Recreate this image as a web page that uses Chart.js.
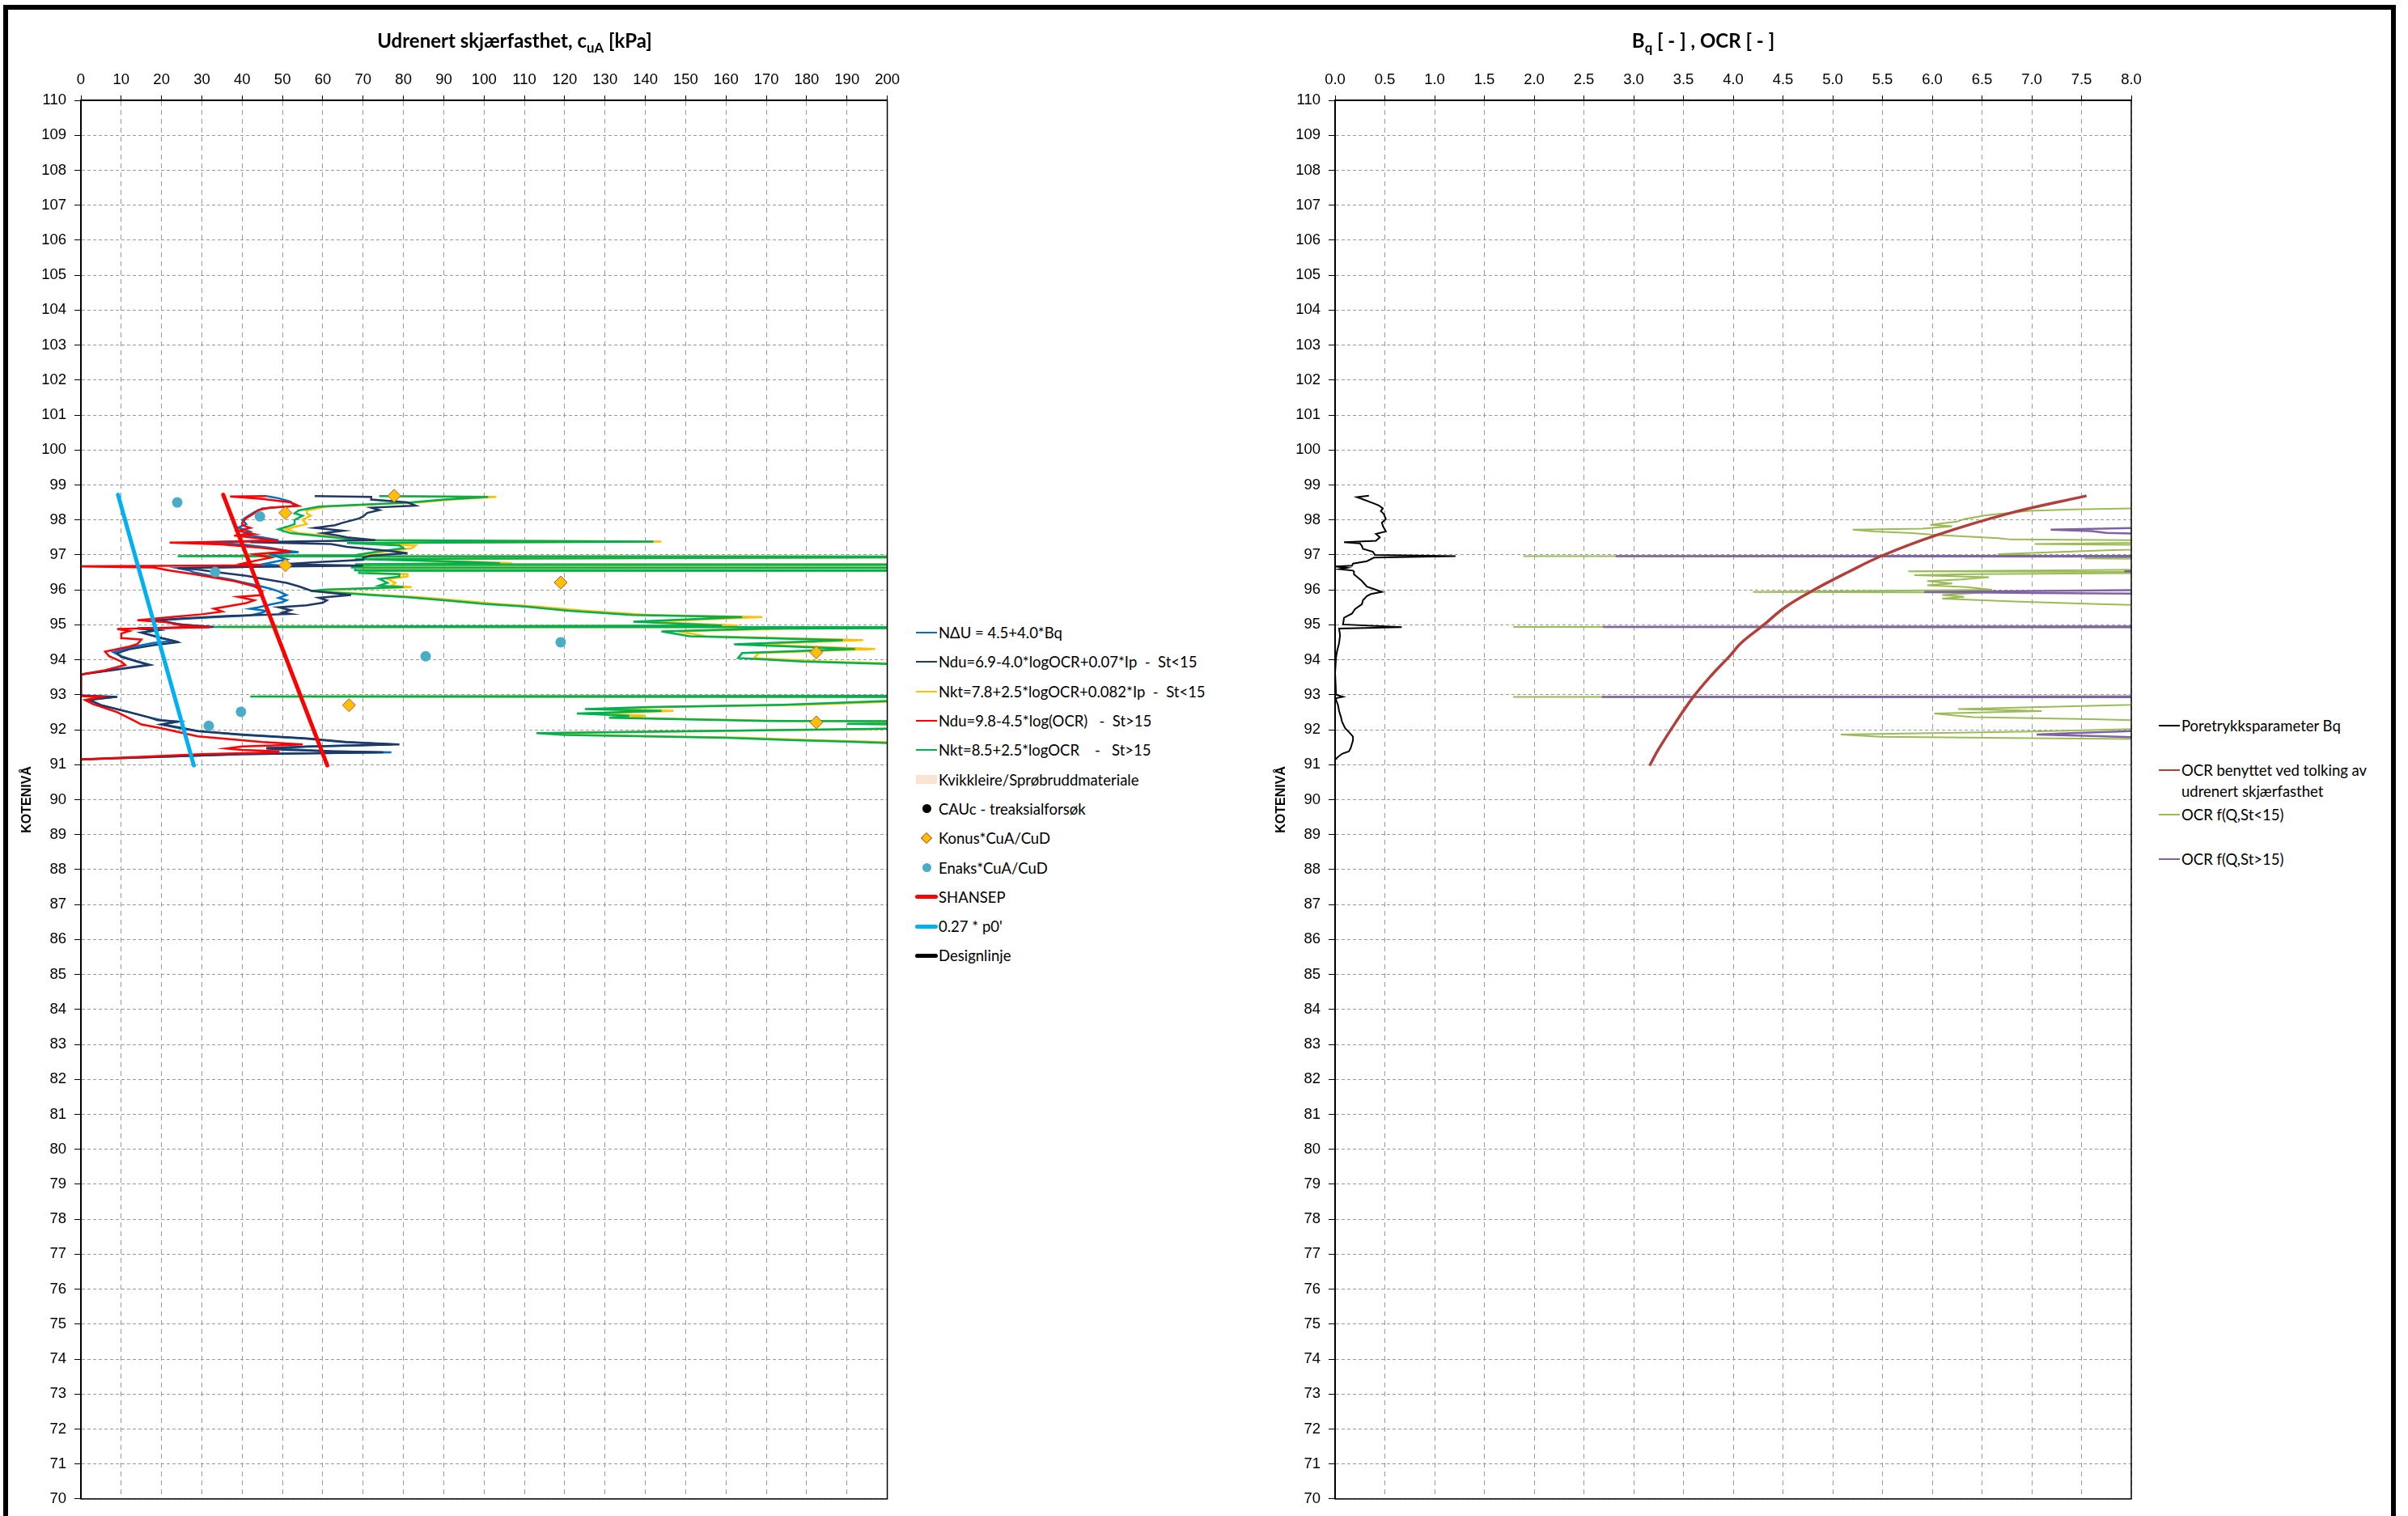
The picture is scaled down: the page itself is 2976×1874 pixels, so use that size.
<!DOCTYPE html>
<html lang="no">
<head>
<meta charset="utf-8">
<title>CPT - tolkning</title>
<script src="https://cdn.jsdelivr.net/npm/chart.js@4.4.1/dist/chart.umd.min.js"></script>
<style>
  html, body { margin: 0; padding: 0; background: #fff; }
  body { width: 2976px; height: 1874px; position: relative; overflow: hidden;
         font-family: Lato, 'Noto Sans', sans-serif; color: #000; }
  .frame { position: absolute; left: 4px; top: 6px; width: 2957px; height: 1920px;
           border: 6px solid #000; box-sizing: border-box; }
  canvas { position: absolute; top: 0; }
  .chart-title { position: absolute; font-weight: bold; font-size: 24px; white-space: nowrap;
                 transform: translate(-50%, -50%); }
  .chart-title sub { font-size: 70%; vertical-align: -0.3em; }
  .legend { position: absolute; font-size: 18.5px; }
  .legend-item { display: flex; align-items: center; white-space: pre; }
  .sym { width: 30px; display: flex; justify-content: center; align-items: center; flex: none; }
  #legendLeft .legend-item { height: 36.3px; }
  #legendRight .legend-item { height: 55px; align-items: flex-start; line-height: 26px; white-space: pre-line; }
  #legendRight .sym { height: 26px; }
</style>
</head>
<body>
<div class="frame"></div>

<canvas id="cuChart" width="1120" height="1874" style="left:0px"></canvas>
<canvas id="ocrChart" width="1110" height="1874" style="left:1550px"></canvas>

<div class="chart-title" style="left:636px; top:52px">Udrenert skjærfasthet, c<sub>uA</sub> [kPa]</div>
<div class="chart-title" style="left:2105px; top:52px">B<sub>q</sub> [ - ] , OCR [ - ]</div>

<div class="legend" id="legendLeft" style="left:1130px; top:764px"></div>
<div class="legend" id="legendRight" style="left:2666px; top:884px"></div>

<script>
// Profiles: [kote (m), value]. Values past the axis end are cut by the chart area.

// Left chart, cuA in kPa
const cuNdU = [
  [98.68, 46], [98.62, 49], [98.52, 52], [98.40, 53], [98.33, 45], [98.22, 43], [98.08, 41], [98.00, 40],
  [97.88, 41], [97.78, 39], [97.66, 42], [97.58, 40], [97.50, 45], [97.42, 49], [97.36, 30], [97.30, 40],
  [97.20, 47], [97.12, 51], [97.08, 54], [97.03, 47], [96.94, 49], [96.87, 51], [96.78, 47], [96.73, 45],
  [96.68, 52], [96.65, 38], [96.62, 24], [96.55, 27], [96.50, 28], [96.43, 31], [96.38, 33], [96.30, 37],
  [96.22, 40], [96.12, 44], [96.03, 47], [95.96, 49], [95.85, 51], [95.77, 49], [95.70, 51], [95.65, 50],
  [95.58, 47], [95.50, 44], [95.46, 42], [95.40, 46], [95.35, 45], [95.27, 42], [95.20, 30], [95.13, 19],
  [95.02, 24], [94.94, 32], [94.90, 14], [94.84, 19], [94.78, 15], [94.62, 20], [94.54, 23], [94.48, 18],
  [94.35, 12], [94.22, 8], [94.10, 10], [93.95, 14], [93.86, 17], [93.75, 10], [93.58, 0], [92.98, 0],
  [92.94, 9], [92.86, 2], [92.70, 5], [92.50, 12], [92.35, 17], [92.27, 20], [92.23, 24], [92.15, 20],
  [92.05, 24], [91.96, 29], [91.85, 40], [91.75, 55], [91.65, 65], [91.58, 77], [91.52, 58], [91.48, 46],
  [91.44, 52], [91.38, 62], [91.35, 77], [91.30, 40], [91.15, 0], [91.10, 0]
];
const cuNduSt15 = [
  [98.68, 58], [98.66, 72], [98.58, 72], [98.50, 81], [98.41, 83], [98.35, 72], [98.28, 74], [98.20, 71],
  [98.10, 70], [98.04, 69], [97.92, 65], [97.85, 63], [97.77, 58], [97.69, 65], [97.62, 60], [97.55, 64],
  [97.50, 66], [97.42, 73], [97.36, 42], [97.31, 62], [97.23, 66], [97.12, 76], [97.05, 81], [96.98, 72],
  [96.92, 70], [96.86, 70], [96.80, 60], [96.73, 50], [96.69, 70], [96.66, 45], [96.62, 24], [96.58, 29],
  [96.50, 34], [96.40, 41], [96.30, 46], [96.20, 51], [96.10, 54], [95.98, 57], [95.90, 63], [95.85, 67],
  [95.77, 59], [95.70, 61], [95.63, 60], [95.56, 56], [95.50, 49], [95.42, 52], [95.35, 50], [95.31, 52],
  [95.25, 36], [95.18, 25], [95.13, 19], [95.00, 25], [94.94, 33], [94.90, 14], [94.84, 19], [94.78, 15],
  [94.62, 20], [94.54, 23], [94.50, 24], [94.42, 18], [94.30, 12], [94.19, 9], [94.08, 10], [93.95, 14],
  [93.85, 17], [93.75, 11], [93.58, 0], [92.98, 0], [92.94, 9], [92.85, 2], [92.70, 5], [92.50, 12],
  [92.35, 17], [92.27, 19], [92.23, 24], [92.15, 20], [92.05, 25], [91.96, 29], [91.86, 40], [91.75, 56],
  [91.65, 66], [91.58, 79], [91.52, 56], [91.46, 46], [91.42, 51], [91.38, 63], [91.35, 75], [91.30, 40],
  [91.15, 0], [91.10, 0]
];
const cuNktSt15 = [
  [98.68, 76], [98.66, 103], [98.58, 92], [98.50, 84], [98.44, 72], [98.38, 61], [98.27, 56], [98.19, 56],
  [98.12, 57], [98.00, 55], [97.88, 56], [97.80, 53], [97.73, 51], [97.62, 54], [97.54, 61], [97.46, 68],
  [97.42, 74], [97.38, 144], [97.34, 68], [97.27, 83], [97.19, 82], [97.10, 76], [96.99, 70], [96.96, 26],
  [96.95, 260], [96.88, 70], [96.80, 98], [96.76, 107], [96.73, 70], [96.72, 260], [96.71, 72], [96.64, 69],
  [96.63, 260], [96.62, 70], [96.56, 70], [96.55, 260], [96.54, 71], [96.48, 71], [96.45, 81], [96.38, 81],
  [96.31, 76], [96.20, 78], [96.12, 77], [96.08, 82], [96.00, 62], [95.96, 59], [95.90, 68], [95.85, 74],
  [95.79, 84], [95.70, 93], [95.60, 103], [95.52, 113], [95.40, 125], [95.28, 141], [95.22, 169], [95.15, 154],
  [95.09, 140], [94.98, 163], [94.94, 35], [94.93, 260], [94.89, 175], [94.81, 148], [94.67, 155], [94.56, 194],
  [94.44, 166], [94.31, 197], [94.19, 168], [94.05, 167], [93.95, 184], [93.88, 205], [93.80, 260], [92.97, 260],
  [92.95, 44], [92.93, 260], [92.82, 205], [92.71, 179], [92.65, 145], [92.59, 128], [92.54, 147], [92.46, 126],
  [92.40, 140], [92.34, 135], [92.25, 175], [92.23, 260], [92.17, 195], [92.10, 235], [92.03, 205], [91.90, 116],
  [91.85, 124], [91.82, 139], [91.77, 165], [91.70, 182], [91.66, 195], [91.62, 205], [91.58, 260], [91.10, 260]
];
const cuNduSt15High = [
  [98.68, 46], [98.67, 37], [98.60, 45], [98.50, 52], [98.40, 54], [98.35, 47], [98.28, 44], [98.19, 43],
  [98.05, 41], [97.92, 40], [97.85, 40], [97.77, 42], [97.69, 39], [97.59, 43], [97.55, 38], [97.46, 45],
  [97.39, 49], [97.35, 22], [97.30, 35], [97.20, 45], [97.10, 52], [97.02, 43], [96.92, 47], [96.85, 44],
  [96.75, 40], [96.70, 45], [96.67, -3], [96.64, 18], [96.55, 22], [96.45, 28], [96.35, 33], [96.25, 38],
  [96.10, 43], [95.97, 45], [95.85, 45], [95.80, 39], [95.70, 43], [95.62, 41], [95.58, 39], [95.46, 33],
  [95.38, 35], [95.30, 30], [95.23, 23], [95.13, 14], [95.08, 21], [94.98, 25], [94.93, 32], [94.88, 9],
  [94.82, 12], [94.75, 10], [94.62, 10], [94.58, 15], [94.45, 14], [94.38, 12], [94.23, 6], [94.10, 7],
  [93.95, 10], [93.85, 11], [93.70, 6], [93.58, 0], [92.96, 0], [92.94, 5], [92.85, 1], [92.73, 3],
  [92.50, 9], [92.27, 13], [92.15, 15], [92.04, 20], [91.81, 29], [91.65, 45], [91.58, 55], [91.52, 40],
  [91.46, 36], [91.42, 40], [91.38, 49], [91.35, 49], [91.30, 30], [91.15, 0], [91.10, 0]
];
const cuNktSt15High = [
  [98.68, 74], [98.66, 101], [98.58, 90], [98.50, 82], [98.44, 70], [98.38, 59], [98.27, 54], [98.19, 53],
  [98.12, 55], [98.00, 53], [97.88, 53], [97.80, 51], [97.73, 49], [97.62, 52], [97.54, 59], [97.46, 66],
  [97.42, 72], [97.38, 142], [97.34, 66], [97.27, 79], [97.19, 80], [97.10, 74], [96.99, 68], [96.96, 24],
  [96.95, 260], [96.88, 68], [96.80, 95], [96.76, 104], [96.73, 68], [96.72, 260], [96.71, 70], [96.64, 67],
  [96.63, 260], [96.62, 68], [96.56, 68], [96.55, 260], [96.54, 69], [96.48, 69], [96.45, 79], [96.38, 79],
  [96.31, 74], [96.20, 76], [96.12, 74], [96.08, 80], [96.00, 60], [95.96, 57], [95.90, 66], [95.85, 72],
  [95.79, 81], [95.70, 90], [95.60, 100], [95.52, 110], [95.40, 121], [95.28, 137], [95.22, 164], [95.15, 150],
  [95.09, 137], [94.98, 159], [94.94, 33], [94.93, 260], [94.89, 170], [94.81, 144], [94.67, 151], [94.56, 189],
  [94.44, 162], [94.31, 192], [94.19, 164], [94.05, 163], [93.95, 179], [93.88, 200], [93.80, 260], [92.97, 260],
  [92.95, 42], [92.93, 260], [92.82, 200], [92.71, 174], [92.65, 141], [92.59, 125], [92.54, 144], [92.46, 123],
  [92.40, 136], [92.34, 131], [92.25, 170], [92.23, 260], [92.17, 190], [92.10, 230], [92.03, 200], [91.90, 113],
  [91.85, 120], [91.82, 135], [91.77, 160], [91.70, 177], [91.66, 190], [91.62, 200], [91.58, 260], [91.10, 260]
];
const konusCu = [[98.69, 77.7], [98.20, 50.7], [96.70, 50.7], [96.21, 119], [94.21, 182.4], [92.70, 66.5], [92.21, 182.4]];
const enaksCu = [[98.50, 23.9], [98.10, 44.4], [96.51, 33.3], [94.50, 119], [94.10, 85.5], [92.51, 39.7], [92.11, 31.7]];
const shansep = [[98.72, 35.3], [90.98, 61.1]];
const p0Line = [[98.72, 9.2], [90.98, 28.0]];
const kvikkleire = [];
const cauc = [];
const designLine = [];

// Right chart, Bq and OCR (-)
const bq = [
  [98.69, 0.34], [98.65, 0.22], [98.60, 0.27], [98.48, 0.38], [98.41, 0.44], [98.33, 0.48], [98.25, 0.46], [98.17, 0.49],
  [98.02, 0.51], [97.92, 0.47], [97.83, 0.48], [97.67, 0.51], [97.60, 0.41], [97.50, 0.45], [97.40, 0.41], [97.36, 0.09],
  [97.33, 0.25], [97.25, 0.27], [97.17, 0.28], [97.09, 0.38], [97.00, 0.40], [96.96, 1.21], [96.92, 0.39], [96.82, 0.32],
  [96.75, 0.18], [96.69, 0.17], [96.67, 0.00], [96.63, 0.12], [96.59, 0.04], [96.55, 0.18], [96.52, 0.19], [96.44, 0.19],
  [96.35, 0.23], [96.25, 0.27], [96.09, 0.32], [95.99, 0.42], [95.94, 0.47], [95.88, 0.36], [95.82, 0.32], [95.70, 0.28],
  [95.59, 0.27], [95.45, 0.20], [95.32, 0.17], [95.20, 0.09], [95.01, 0.08], [94.93, 0.67], [94.89, 0.04], [94.70, 0.05],
  [94.47, 0.04], [94.25, 0.02], [94.08, 0.01], [93.62, 0.00], [93.00, 0.01], [92.94, 0.08], [92.90, 0.01], [92.85, 0.01],
  [92.70, 0.03], [92.54, 0.04], [92.35, 0.06], [92.23, 0.07], [92.05, 0.10], [91.90, 0.15], [91.80, 0.18], [91.69, 0.18],
  [91.60, 0.17], [91.50, 0.16], [91.38, 0.14], [91.31, 0.07], [91.20, 0.02], [91.15, 0.01]
];
const ocrUsed = [
  [98.69, 7.55], [98.17, 6.75], [97.56, 6.04], [96.98, 5.50], [96.50, 5.15], [95.98, 4.80], [95.50, 4.52],
  [94.98, 4.30], [94.48, 4.08], [94.09, 3.96], [93.55, 3.78], [92.94, 3.60], [92.20, 3.42], [91.44, 3.25], [90.97, 3.16]
];
const ocrSt15Low = [
  [98.70, 9.5], [98.34, 8.2], [98.30, 7.4], [98.26, 6.97], [98.13, 6.54], [98.02, 6.32], [97.95, 6.25], [97.86, 5.98],
  [97.82, 6.20], [97.75, 5.90], [97.72, 5.20], [97.67, 5.42], [97.62, 5.80], [97.57, 6.04], [97.48, 6.66], [97.44, 6.79],
  [97.40, 9.5], [97.31, 7.03], [97.25, 9.5], [97.13, 7.75], [97.02, 6.66], [96.97, 7.20], [96.96, 1.89], [96.95, 9.5],
  [96.90, 7.53], [96.85, 9.5], [96.60, 9.5], [96.56, 7.30], [96.53, 5.76], [96.50, 9.5], [96.45, 6.40], [96.42, 5.82],
  [96.36, 6.57], [96.30, 6.30], [96.25, 5.95], [96.18, 6.20], [96.13, 5.95], [96.08, 6.35], [96.00, 6.60], [95.94, 4.20],
  [95.92, 6.50], [95.85, 6.10], [95.80, 6.32], [95.75, 6.10], [95.67, 6.82], [95.60, 7.60], [95.55, 8.2], [95.40, 9.5],
  [94.95, 9.5], [94.94, 1.79], [94.93, 9.5], [92.96, 9.5], [92.94, 1.79], [92.93, 9.5], [92.71, 8.0], [92.59, 6.26],
  [92.55, 6.90], [92.53, 7.10], [92.46, 6.02], [92.36, 6.41], [92.30, 7.60], [92.26, 8.2], [92.05, 8.5], [91.95, 7.00],
  [91.86, 5.08], [91.80, 5.48], [91.76, 7.00], [91.73, 8.2], [91.60, 9.5], [91.10, 9.5]
];
const ocrSt15High = [
  [98.70, 9.5], [97.80, 9.5], [97.78, 8.2], [97.72, 7.19], [97.68, 7.60], [97.63, 7.75], [97.60, 8.2], [97.55, 9.5],
  [96.97, 9.5], [96.96, 2.82], [96.95, 9.5], [96.54, 9.5], [96.53, 7.93], [96.52, 9.5], [96.00, 8.5], [95.94, 5.92],
  [95.91, 7.00], [95.88, 8.5], [95.85, 9.5], [94.95, 9.5], [94.94, 2.69], [94.93, 9.5], [92.95, 9.5], [92.94, 2.68],
  [92.93, 9.5], [92.02, 9.5], [91.98, 8.2], [91.90, 7.40], [91.86, 7.05], [91.82, 7.60], [91.77, 8.2], [91.70, 9.5],
  [91.10, 9.5]
];

const toXY = rows => rows.map(([kote, v]) => ({ x: v, y: kote }));

// Solid box around the plot area (right and bottom edges have no axis)
const plotFrame = {
  id: 'plotFrame',
  afterDraw(chart) {
    const { ctx, chartArea: a } = chart;
    ctx.save();
    ctx.strokeStyle = '#000';
    ctx.lineWidth = 1.5;
    ctx.strokeRect(a.left, a.top, a.right - a.left, a.bottom - a.top);
    ctx.restore();
  }
};

function lineSet(label, rows, color, width, order, extra) {
  return Object.assign({
    label: label,
    data: toXY(rows),
    showLine: true,
    borderColor: color,
    backgroundColor: color,
    borderWidth: width,
    pointRadius: 0,
    order: order,
    mark: width > 3 ? 'thick' : 'line'
  }, extra || {});
}

function profileOptions(xMax, xStep, decimals, padRight) {
  return {
    responsive: false,
    animation: false,
    events: [],
    layout: { padding: { left: 0, right: padRight, top: 0, bottom: 19 } },
    plugins: { legend: { display: false }, tooltip: { enabled: false } },
    scales: {
      x: {
        type: 'linear', position: 'top', min: 0, max: xMax,
        afterFit: s => { s.height = 124; },
        ticks: {
          stepSize: xStep, autoSkip: false, maxRotation: 0, padding: 8,
          color: '#000', font: { size: 18.5 },
          callback: v => v.toFixed(decimals)
        },
        grid: { color: '#9a9a9a', tickColor: '#000', tickLength: 6 },
        border: { color: '#000', width: 2, dash: [6, 5] }
      },
      y: {
        type: 'linear', min: 70, max: 110,
        afterFit: s => { s.width = 100; },
        ticks: { stepSize: 1, autoSkip: false, padding: 10, color: '#000', font: { size: 18.5 } },
        grid: { color: '#9a9a9a', tickColor: '#000', tickLength: 8 },
        border: { color: '#000', width: 2, dash: [4, 3] },
        title: {
          display: true, text: 'KOTENIVÅ', color: '#000',
          font: { size: 16, weight: 'bold' }, padding: { top: 24, bottom: 0 }
        }
      }
    }
  };
}

function buildLegend(chart, el) {
  chart.data.datasets.forEach(ds => {
    const item = document.createElement('div');
    item.className = 'legend-item';
    const sym = document.createElement('span');
    sym.className = 'sym';
    const m = document.createElement('span');
    m.style.display = 'block';
    if (ds.mark === 'line') {
      m.style.cssText += `width:26px;height:2px;background:${ds.borderColor};`;
    } else if (ds.mark === 'thick') {
      m.style.cssText += `width:28px;height:5px;border-radius:3px;background:${ds.borderColor};`;
    } else if (ds.mark === 'rect') {
      m.style.cssText += `width:26px;height:11px;background:${ds.backgroundColor};`;
    } else if (ds.mark === 'dot') {
      m.style.cssText += `width:11px;height:11px;border-radius:50%;background:${ds.backgroundColor};`;
    } else if (ds.mark === 'diamond') {
      m.style.cssText += `width:8px;height:8px;transform:rotate(45deg);background:${ds.backgroundColor};border:1px solid ${ds.borderColor};`;
    }
    sym.appendChild(m);
    const txt = document.createElement('span');
    txt.textContent = ds.label;
    item.appendChild(sym);
    item.appendChild(txt);
    el.appendChild(item);
  });
}

function initCharts() {
  // 1. Undrained shear strength profile
  const cuChart = new Chart(document.getElementById('cuChart').getContext('2d'), {
    type: 'scatter',
    data: {
      datasets: [
        lineSet('NΔU = 4.5+4.0*Bq', cuNdU, '#0070C0', 2.5, 5),
        lineSet('Ndu=6.9-4.0*logOCR+0.07*Ip  -  St<15', cuNduSt15, '#1F3864', 2.5, 4),
        lineSet('Nkt=7.8+2.5*logOCR+0.082*Ip  -  St<15', cuNktSt15, '#FFC000', 2.5, 7),
        lineSet('Ndu=9.8-4.5*log(OCR)   -  St>15', cuNduSt15High, '#FF0000', 2.5, 3),
        lineSet('Nkt=8.5+2.5*logOCR    -   St>15', cuNktSt15High, '#00B050', 2.5, 6),
        { label: 'Kvikkleire/Sprøbruddmateriale', data: toXY(kvikkleire), backgroundColor: '#FBE3D4', borderColor: '#FBE3D4', mark: 'rect', order: 8 },
        { label: 'CAUc - treaksialforsøk', data: toXY(cauc), backgroundColor: '#000', borderColor: '#000', pointRadius: 6, mark: 'dot', order: 0 },
        {
          label: 'Konus*CuA/CuD', data: toXY(konusCu), pointStyle: 'rectRot', pointRadius: 8,
          backgroundColor: '#FFC000', borderColor: '#C0504D', borderWidth: 1, mark: 'diamond', order: 0
        },
        {
          label: 'Enaks*CuA/CuD', data: toXY(enaksCu), pointStyle: 'circle', pointRadius: 6.5,
          backgroundColor: '#4BACC6', borderColor: '#4BACC6', borderWidth: 0, mark: 'dot', order: 1
        },
        lineSet('SHANSEP', shansep, '#FF0000', 5, 2, { borderCapStyle: 'round' }),
        lineSet("0.27 * p0'", p0Line, '#00B0F0', 5, 2, { borderCapStyle: 'round' }),
        lineSet('Designlinje', designLine, '#000000', 5, 2)
      ]
    },
    options: profileOptions(200, 10, 0, 20),
    plugins: [plotFrame]
  });
  buildLegend(cuChart, document.getElementById('legendLeft'));

  // 2. Pore pressure parameter and OCR
  const ocrChart = new Chart(document.getElementById('ocrChart').getContext('2d'), {
    type: 'scatter',
    data: {
      datasets: [
        lineSet('Poretrykksparameter Bq', bq, '#000000', 2, 1),
        lineSet('OCR benyttet ved tolking av\nudrenert skjærfasthet', ocrUsed, '#B23F3A', 3.5, 0, { tension: 0.4, mark: 'line' }),
        lineSet('OCR f(Q,St<15)', ocrSt15Low, '#9BBB59', 2, 3),
        lineSet('OCR f(Q,St>15)', ocrSt15High, '#7F62A1', 2.5, 2)
      ]
    },
    options: profileOptions(8, 0.5, 1, 26),
    plugins: [plotFrame]
  });
  buildLegend(ocrChart, document.getElementById('legendRight'));
}

document.addEventListener('DOMContentLoaded', initCharts);
</script>
</body>
</html>
